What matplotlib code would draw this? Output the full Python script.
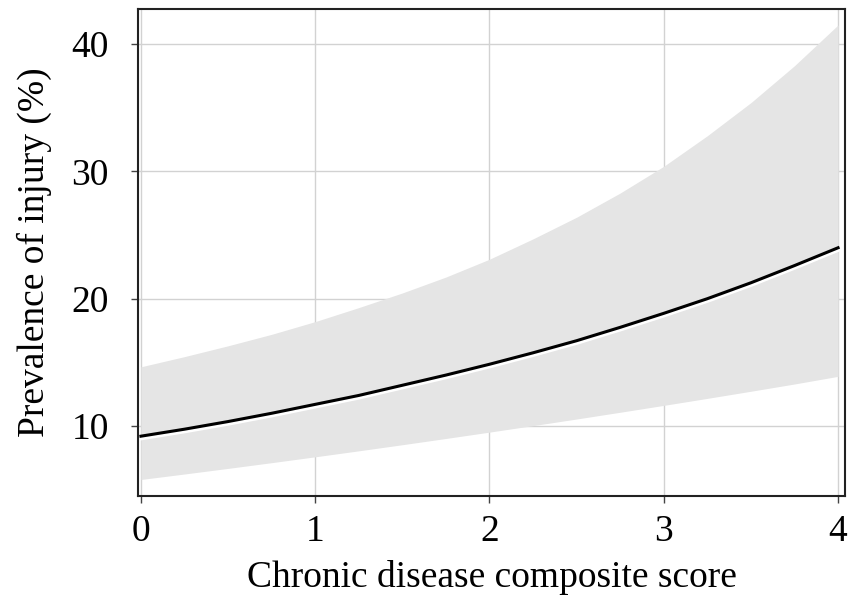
import matplotlib
matplotlib.use("Agg")
import matplotlib.pyplot as plt
import matplotlib.transforms as mtransforms

plt.rcParams["font.family"] = ["Liberation Serif", "DejaVu Serif"]

# chronic disease composite score vs predicted prevalence of injury (%)
score = [0, 0.25, 0.5, 0.75, 1, 1.25, 1.5, 1.75, 2,
         2.25, 2.5, 2.75, 3, 3.25, 3.5, 3.75, 4]
prevalence = [9.2, 9.75, 10.35, 11.0, 11.7, 12.4, 13.2, 14.0, 14.85,
              15.75, 16.7, 17.75, 18.85, 20.0, 21.25, 22.6, 24.0]
ci_upper = [14.65, 15.45, 16.3, 17.2, 18.2, 19.3, 20.45, 21.7, 23.1,
            24.7, 26.4, 28.3, 30.4, 32.8, 35.4, 38.3, 41.5]
ci_lower = [5.8, 6.23, 6.67, 7.12, 7.58, 8.05, 8.53, 9.02, 9.52,
            10.03, 10.55, 11.08, 11.62, 12.17, 12.73, 13.3, 13.9]

xticks = [0, 1, 2, 3, 4]
yticks = [10, 20, 30, 40]

fig = plt.figure(figsize=(8.48, 6.03), dpi=100)
ax = fig.add_axes([0.1627, 0.1774, 0.8338, 0.8076])

ax.fill_between(score, ci_lower, ci_upper, color="#e5e5e5", linewidth=0, zorder=1)
# white halo just under the estimate line
halo = mtransforms.offset_copy(ax.transData, fig=fig, x=0, y=-1.5, units="points")
ax.plot(score, prevalence, color="white", linewidth=3, transform=halo, zorder=2)
ax.plot(score, prevalence, color="black", linewidth=2.2, zorder=3)

ax.set_xlim(-0.017, 4.04)
ax.set_ylim(4.5, 42.75)
ax.set_xticks(xticks)
ax.set_yticks(yticks)
ax.grid(True, color="#d2d2d2", linewidth=1, zorder=0)
ax.set_axisbelow(True)

for s in ax.spines.values():
    s.set_color("#222222")
    s.set_linewidth(1.5)

ax.tick_params(axis="both", direction="out", length=5, width=1, labelsize=27,
               color="#444444")
ax.tick_params(axis="x", pad=8)
ax.tick_params(axis="y", pad=16)
ax.tick_params(top=False, right=False)

ax.set_xlabel("Chronic disease composite score", fontsize=27, labelpad=8)
ax.set_ylabel("Prevalence of injury (%)", fontsize=27, labelpad=14)

plt.savefig("out.png", dpi=100)
